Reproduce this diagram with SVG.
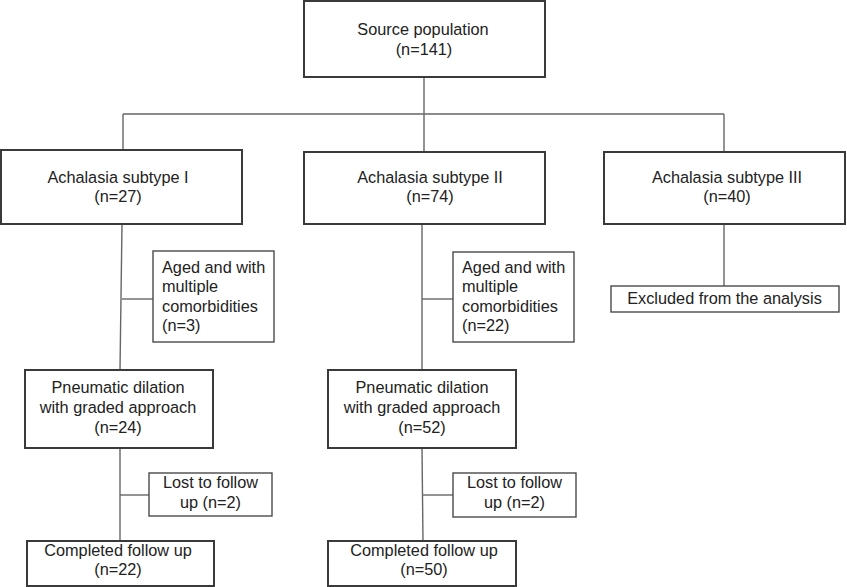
<svg xmlns="http://www.w3.org/2000/svg" width="847" height="587" viewBox="0 0 847 587">
<style>
rect{fill:#fff}
.m{stroke:#3a3a3a;stroke-width:2}
.s{stroke:#4a4a4a;stroke-width:1.4}
text{font-family:"Liberation Sans",Arial,sans-serif;font-size:16.3px;fill:#222}
.c{text-anchor:middle}
#connectors line{stroke:#666;stroke-width:1.4}
</style>
<rect width="847" height="587" fill="#fff"/>
<g id="connectors">
<line x1="424" y1="77" x2="424" y2="152"/>
<line x1="123" y1="114" x2="724" y2="114"/>
<line x1="123" y1="114" x2="123" y2="150"/>
<line x1="724" y1="114" x2="724" y2="152"/>
<line x1="122" y1="224" x2="120" y2="370"/>
<line x1="122" y1="299" x2="153" y2="299"/>
<line x1="120" y1="448" x2="120" y2="541"/>
<line x1="120" y1="495" x2="149" y2="495"/>
<line x1="422" y1="224" x2="422" y2="370"/>
<line x1="422" y1="299" x2="453" y2="299"/>
<line x1="422" y1="448" x2="423" y2="541"/>
<line x1="422" y1="495" x2="453" y2="495"/>
<line x1="724" y1="224" x2="724" y2="286"/>
</g>
<g id="source">
<rect class="m" x="304" y="1" width="241" height="76"/>
<text class="c" x="423" y="35">Source population</text>
<text class="c" x="424" y="55">(n=141)</text>
</g>
<g id="subtype1">
<rect class="m" x="1" y="150" width="241" height="74"/>
<text class="c" x="118" y="183">Achalasia subtype I</text>
<text class="c" x="118" y="202">(n=27)</text>
</g>
<g id="subtype2">
<rect class="m" x="304" y="152" width="241" height="72"/>
<text class="c" x="430" y="183">Achalasia subtype II</text>
<text class="c" x="430" y="202">(n=74)</text>
</g>
<g id="subtype3">
<rect class="m" x="604" y="152" width="241" height="72"/>
<text class="c" x="727" y="183">Achalasia subtype III</text>
<text class="c" x="727" y="202">(n=40)</text>
</g>
<g id="excluded">
<rect class="s" x="611" y="286" width="228" height="26"/>
<text class="c" x="724.5" y="304">Excluded from the analysis</text>
</g>
<g id="aged1">
<rect class="s" x="153" y="251" width="121" height="91"/>
<text x="162" y="273">Aged and with</text>
<text x="162" y="292">multiple</text>
<text x="162" y="312">comorbidities</text>
<text x="162" y="331">(n=3)</text>
</g>
<g id="aged2">
<rect class="s" x="453" y="252" width="121" height="90"/>
<text x="462" y="273">Aged and with</text>
<text x="462" y="292">multiple</text>
<text x="462" y="312">comorbidities</text>
<text x="462" y="331">(n=22)</text>
</g>
<g id="pd1">
<rect class="m" x="25" y="370" width="188" height="78"/>
<text class="c" x="118" y="393">Pneumatic dilation</text>
<text class="c" x="118" y="413">with graded approach</text>
<text class="c" x="118" y="433">(n=24)</text>
</g>
<g id="pd2">
<rect class="m" x="328" y="370" width="188" height="78"/>
<text class="c" x="422" y="393">Pneumatic dilation</text>
<text class="c" x="422" y="413">with graded approach</text>
<text class="c" x="422" y="433">(n=52)</text>
</g>
<g id="lost1">
<rect class="s" x="149" y="473" width="123" height="43"/>
<text class="c" x="210.5" y="488">Lost to follow</text>
<text class="c" x="210.5" y="508">up (n=2)</text>
</g>
<g id="lost2">
<rect class="s" x="453" y="473" width="123" height="44"/>
<text class="c" x="514.5" y="488">Lost to follow</text>
<text class="c" x="514.5" y="508">up (n=2)</text>
</g>
<g id="completed1">
<rect class="m" x="27" y="541" width="187" height="45"/>
<text class="c" x="118" y="556">Completed follow up</text>
<text class="c" x="118" y="575">(n=22)</text>
</g>
<g id="completed2">
<rect class="m" x="328" y="541" width="188" height="45"/>
<text class="c" x="424" y="556">Completed follow up</text>
<text class="c" x="424" y="575">(n=50)</text>
</g>
</svg>
